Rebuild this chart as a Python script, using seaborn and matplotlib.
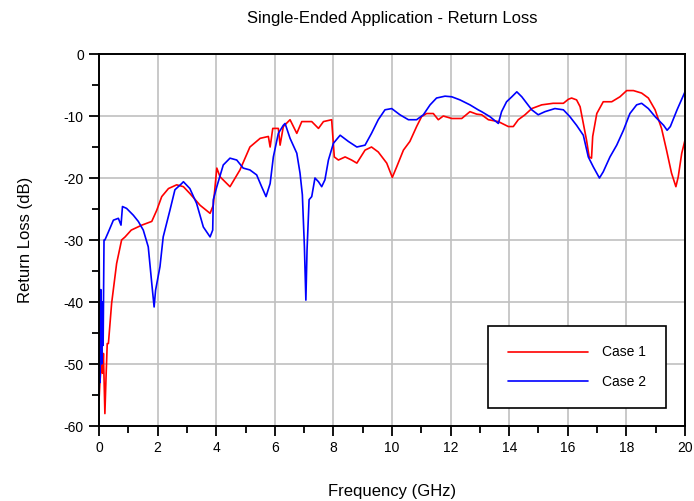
import matplotlib
matplotlib.use('Agg')
import matplotlib.pyplot as plt
import seaborn as sns
import pandas as pd
from matplotlib.ticker import MultipleLocator

# Case 1 (red) - frequency in GHz, return loss in dB
freq1 = [0.0, 0.03, 0.08, 0.12, 0.15, 0.2, 0.24, 0.28, 0.32, 0.43, 0.6, 0.77, 0.89,
         1.1, 1.46, 1.8, 1.97, 2.14, 2.37, 2.65, 2.88, 3.1, 3.45, 3.79, 3.9, 4.02,
         4.13, 4.47, 4.81, 5.15, 5.5, 5.78, 5.84, 5.93, 6.12, 6.18, 6.29, 6.52, 6.75,
         6.92, 7.26, 7.49, 7.66, 7.94, 8.03, 8.17, 8.4, 8.62, 8.8, 9.08, 9.3, 9.53,
         9.82, 10.01, 10.16, 10.39, 10.61, 10.84, 11.01, 11.18, 11.41, 11.58, 11.75,
         12.04, 12.38, 12.66, 12.89, 13.06, 13.29, 13.63, 13.97, 14.14, 14.31, 14.54,
         14.77, 15.11, 15.5, 15.85, 16.02, 16.13, 16.3, 16.42, 16.53, 16.64, 16.73,
         16.81, 16.85, 16.99, 17.21, 17.5, 17.78, 18.01, 18.24, 18.52, 18.75, 18.98,
         19.2, 19.37, 19.54, 19.69, 19.77, 19.89, 20.0]
rl1 = [-55.8, -53, -50, -51.5, -48.3, -58, -52, -46.7, -46.7, -40.2, -33.8, -30, -29.5,
       -28.4, -27.6, -27, -25.2, -23, -21.7, -21.1, -21.4, -22.5, -24.4, -25.7, -24.4, -18.4,
       -19.8, -21.4, -18.7, -15, -13.6, -13.3, -15, -12, -12, -14.7, -11.7, -10.6, -12.8,
       -10.9, -10.9, -12, -10.9, -10.6, -16.6, -17.1, -16.6, -17.1, -17.6, -15.5, -15, -15.8,
       -17.6, -19.9, -18.2, -15.5, -14.1, -11.7, -10.1, -9.6, -9.6, -10.6, -10,
       -10.4, -10.4, -9.3, -9.7, -9.8, -10.6, -10.9, -11.7, -11.7, -10.6, -9.8,
       -8.8, -8.2, -7.95, -7.95, -7.3, -7.1, -7.4, -8.5, -11.2, -13.9, -16.6,
       -16.8, -13.3, -9.6, -7.7, -7.7, -6.9, -5.9, -5.9, -6.3, -7.1, -9,
       -12, -15.5, -19.2, -21.4, -19.8, -16, -13.9]

# Case 2 (blue)
freq2 = [0.0, 0.03, 0.06, 0.09, 0.11, 0.14, 0.17, 0.2, 0.32, 0.49, 0.66, 0.75, 0.8,
         0.94, 1.17, 1.34, 1.51, 1.68, 1.8, 1.88, 1.93, 2.08, 2.19, 2.42, 2.59, 2.82,
         2.88, 3.1, 3.33, 3.56, 3.79, 3.88, 3.9, 4.02, 4.24, 4.47, 4.7, 4.92, 5.15,
         5.38, 5.55, 5.7, 5.84, 5.95, 6.12, 6.29, 6.35, 6.52, 6.75, 6.86, 6.94, 7.01,
         7.06, 7.1, 7.17, 7.26, 7.37, 7.49, 7.6, 7.71, 7.83, 8.0, 8.23, 8.51, 8.8,
         9.08, 9.3, 9.53, 9.76, 9.99, 10.27, 10.56, 10.84, 11.07, 11.3, 11.52, 11.81,
         12.04, 12.32, 12.66, 12.94, 13.06, 13.34, 13.63, 13.74, 13.91, 14.09, 14.26,
         14.43, 14.6, 14.77, 14.99, 15.22, 15.56, 15.85, 16.07, 16.3, 16.53, 16.7,
         16.87, 17.08, 17.21, 17.44, 17.67, 17.9, 18.12, 18.35, 18.52, 18.75, 18.98,
         19.27, 19.39, 19.5, 19.73, 20.0]
rl2 = [-27.9, -53, -38, -50, -40, -47, -30, -30, -28.7, -26.8, -26.5, -27.6, -24.6,
       -24.9, -26, -27, -28.4, -31.1, -37, -40.8, -38.1, -34.3, -29.5, -25.2, -21.9, -20.9,
       -20.6, -21.7, -24.1, -27.9, -29.5, -28.4, -23.5, -21.4, -17.9, -16.8, -17.1, -18.4, -18.7,
       -19.5, -21.4, -23, -20.9, -16.6, -12.8, -11.5, -11.2, -13.6, -16, -19.2, -22.7, -31.1,
       -39.7, -31.6, -23.5, -23, -20, -20.6, -21.4, -20.3, -17.1, -14.4, -13.1, -14.1, -15,
       -14.7, -12.8, -10.6, -9, -8.8, -9.8, -10.6, -10.6, -9.8, -8.2, -7.1, -6.8,
       -6.9, -7.4, -8.2, -9, -9.3, -10.1, -11.2, -9.3, -7.7, -6.9, -6.1,
       -6.9, -7.95, -9, -9.8, -9.3, -8.8, -9, -10.1, -11.5, -13.1, -16.6,
       -18.2, -20, -19, -16.6, -14.7, -12.3, -9.6, -8.2, -7.95, -8.8, -10.1,
       -11.5, -12.3, -11.7, -9, -6.1]

df = pd.concat([
    pd.DataFrame({"freq": freq1, "rl": rl1, "case": "Case 1"}),
    pd.DataFrame({"freq": freq2, "rl": rl2, "case": "Case 2"}),
], ignore_index=True)

sns.set_theme(style="ticks")
plt.rcParams['font.family'] = ['Liberation Sans', 'DejaVu Sans']
plt.rcParams['axes.unicode_minus'] = False
plt.rcParams['text.color'] = 'black'
plt.rcParams['axes.labelcolor'] = 'black'

fig = plt.figure(figsize=(6.94, 5.01), dpi=100)
ax = fig.add_axes([0.1427, 0.1497, 0.8443, 0.7425])

sns.lineplot(data=df, x="freq", y="rl", hue="case", palette=["#ff0000", "#0000ff"],
             sort=False, estimator=None, linewidth=1.2, ax=ax)

ax.set_xlim(0, 20)
ax.set_ylim(-60, 0)
ax.xaxis.set_major_locator(MultipleLocator(2))
ax.xaxis.set_minor_locator(MultipleLocator(1))
ax.yaxis.set_major_locator(MultipleLocator(10))
ax.yaxis.set_minor_locator(MultipleLocator(5))
ax.grid(True, which="major", color="#c0c0c0", linewidth=1.2)
ax.set_axisbelow(True)
for s in ax.spines.values():
    s.set_color("black")
    s.set_linewidth(1.4)
ax.tick_params(which="major", length=7, width=1.3, colors="black", labelsize=10, pad=4)
ax.tick_params(which="minor", length=5, width=1.3, colors="black")

ax.set_title("Single-Ended Application - Return Loss", fontsize=12, pad=22, color="black")
ax.set_xlabel("Frequency (GHz)", fontsize=12, labelpad=21)
ax.set_ylabel("Return Loss (dB)", fontsize=12, labelpad=22)

leg = ax.legend(loc="lower left", bbox_to_anchor=(0.664, 0.048), borderaxespad=0,
                fontsize=10, handlelength=5.8, handletextpad=1.0, borderpad=1.4,
                labelspacing=1.1, fancybox=False, framealpha=1, edgecolor="black")
leg.get_frame().set_linewidth(1.2)
for line in leg.get_lines():
    line.set_linewidth(1.2)

plt.savefig("out.png", dpi=100)
plt.close()
